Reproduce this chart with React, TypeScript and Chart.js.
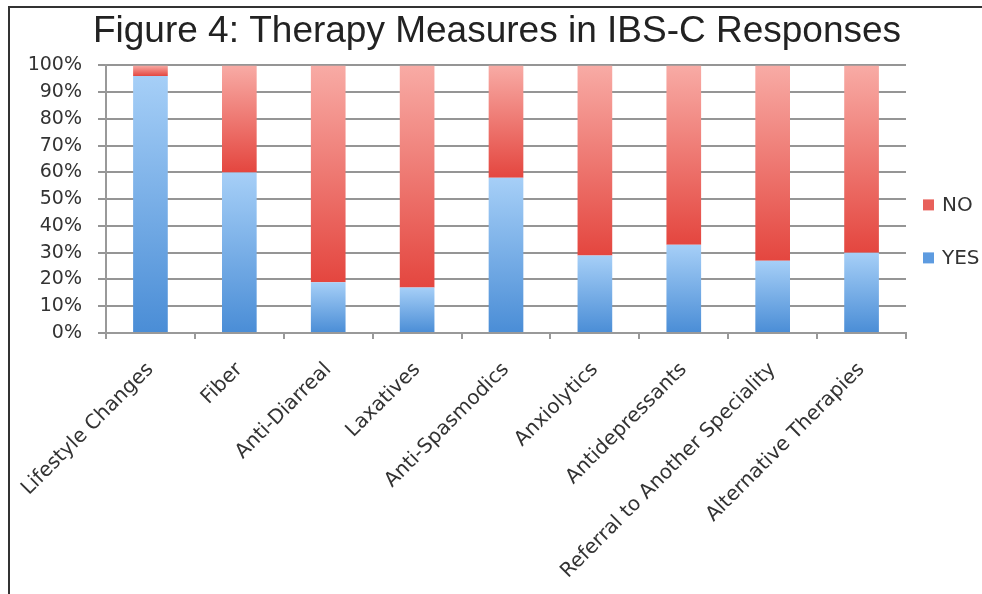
import React, { useEffect, useRef } from 'react';
import { Chart, registerables } from 'chart.js';

Chart.register(...registerables);

const TITLE = 'Figure 4: Therapy Measures in IBS-C Responses';
const CATEGORIES = [
  'Lifestyle Changes',
  'Fiber',
  'Anti-Diarreal',
  'Laxatives',
  'Anti-Spasmodics',
  'Anxiolytics',
  'Antidepressants',
  'Referral to Another Speciality',
  'Alternative Therapies',
];
const YES_VALUES = [96, 60, 19, 17, 58, 29, 33, 27, 30];
const NO_VALUES = [4, 40, 81, 83, 42, 71, 67, 73, 70];
const SERIES_LABELS = ['YES', 'NO'];
const Y_MIN = 0;
const Y_MAX = 100;
const Y_STEP = 10;

const BLUE_LIGHT = '#a6cff7';
const BLUE_DARK = '#4a8dd6';
const RED_LIGHT = '#f8aba5';
const RED_DARK = '#e4463f';

const W = 982;
const H = 594;

function makeGradient(chart: any, top: number, bottom: number, light: string, dark: string) {
  const g = chart.ctx.createLinearGradient(0, top, 0, bottom);
  g.addColorStop(0, light);
  g.addColorStop(1, dark);
  return g;
}

const borderPlugin = {
  id: 'frameBorder',
  beforeDraw(chart: any) {
    const { ctx } = chart;
    ctx.save();
    ctx.fillStyle = '#ffffff';
    ctx.fillRect(0, 0, chart.width, chart.height);
    ctx.fillStyle = '#333333';
    ctx.fillRect(8, 6, chart.width - 8, 2);
    ctx.fillRect(8, 6, 2, chart.height - 6);
    ctx.restore();
  },
};

const legendPlugin = {
  id: 'sideLegend',
  afterDraw(chart: any) {
    const { ctx, chartArea } = chart;
    const items = [
      { label: SERIES_LABELS[1], color: '#e8605a', dy: 139 },
      { label: SERIES_LABELS[0], color: '#5d9be0', dy: 192 },
    ];
    ctx.save();
    ctx.font = '20px "DejaVu Sans"';
    ctx.textBaseline = 'middle';
    ctx.textAlign = 'left';
    for (const it of items) {
      const cy = chartArea.top + it.dy;
      ctx.fillStyle = it.color;
      ctx.fillRect(chartArea.right + 17, cy - 5, 11, 11);
      ctx.fillStyle = '#333333';
      ctx.fillText(it.label, chartArea.right + 36, cy + 1);
    }
    ctx.restore();
  },
};

export default function App() {
  const ref = useRef<HTMLCanvasElement | null>(null);

  useEffect(() => {
    if (!ref.current) return;
    const chart = new Chart(ref.current, {
      type: 'bar',
      data: {
        labels: CATEGORIES,
        datasets: [
          {
            label: SERIES_LABELS[0],
            data: YES_VALUES,
            backgroundColor: (c: any) => {
              const chart = c.chart;
              if (!chart.chartArea || c.dataIndex === undefined) return BLUE_DARK;
              const y = chart.scales.y;
              return makeGradient(chart, y.getPixelForValue(YES_VALUES[c.dataIndex]), y.getPixelForValue(0), BLUE_LIGHT, BLUE_DARK);
            },
            borderWidth: 0,
            barPercentage: 0.39,
            categoryPercentage: 1,
          },
          {
            label: SERIES_LABELS[1],
            data: NO_VALUES,
            backgroundColor: (c: any) => {
              const chart = c.chart;
              if (!chart.chartArea || c.dataIndex === undefined) return RED_DARK;
              const y = chart.scales.y;
              const i = c.dataIndex;
              return makeGradient(chart, y.getPixelForValue(YES_VALUES[i] + NO_VALUES[i]), y.getPixelForValue(YES_VALUES[i]), RED_LIGHT, RED_DARK);
            },
            borderWidth: 0,
            barPercentage: 0.39,
            categoryPercentage: 1,
          },
        ],
      },
      options: {
        animation: false,
        responsive: false,
        maintainAspectRatio: false,
        layout: { padding: { left: 12, right: 0, top: 7, bottom: 0 } },
        plugins: {
          legend: { display: false },
          tooltip: { enabled: false },
          title: {
            display: true,
            text: TITLE,
            color: '#222222',
            font: { family: '"Liberation Sans", Arial, sans-serif', size: 37, weight: 'normal', lineHeight: 1.2 },
            padding: { top: 3, bottom: 11 },
          },
        },
        scales: {
          x: {
            stacked: true,
            grid: {
              offset: true,
              drawOnChartArea: false,
              drawTicks: true,
              tickLength: 6,
              color: '#999999',
              lineWidth: 2,
            },
            border: { display: true, color: '#999999', width: 2 },
            ticks: {
              autoSkip: false,
              minRotation: 45,
              maxRotation: 45,
              padding: 19,
              color: '#333333',
              font: { family: '"DejaVu Sans", sans-serif', size: 20 },
            },
            afterFit: (s: any) => {
              s.height = 261;
            },
          },
          y: {
            stacked: true,
            min: Y_MIN,
            max: Y_MAX,
            grid: {
              color: '#959595',
              lineWidth: 2,
              drawTicks: true,
              tickLength: 8,
            },
            border: { display: true, color: '#999999', width: 2 },
            ticks: {
              stepSize: Y_STEP,
              padding: 16,
              color: '#333333',
              font: { family: '"DejaVu Sans", sans-serif', size: 19 },
              callback: (v: any) => `${v}%`,
            },
            afterFit: (s: any) => {
              s.width = 94;
            },
          },
          legendSpace: {
            type: 'linear',
            position: 'right',
            display: true,
            grid: { display: false, drawTicks: false },
            border: { display: false },
            ticks: { display: false },
            afterFit: (s: any) => {
              s.width = 76;
            },
          },
        },
      },
      plugins: [borderPlugin, legendPlugin],
    });
    return () => chart.destroy();
  }, []);

  return (
    <div style={{ position: 'absolute', left: 0, top: 0, width: W, height: H }}>
      <canvas ref={ref} width={W} height={H} style={{ display: 'block', width: W, height: H }} />
    </div>
  );
}
